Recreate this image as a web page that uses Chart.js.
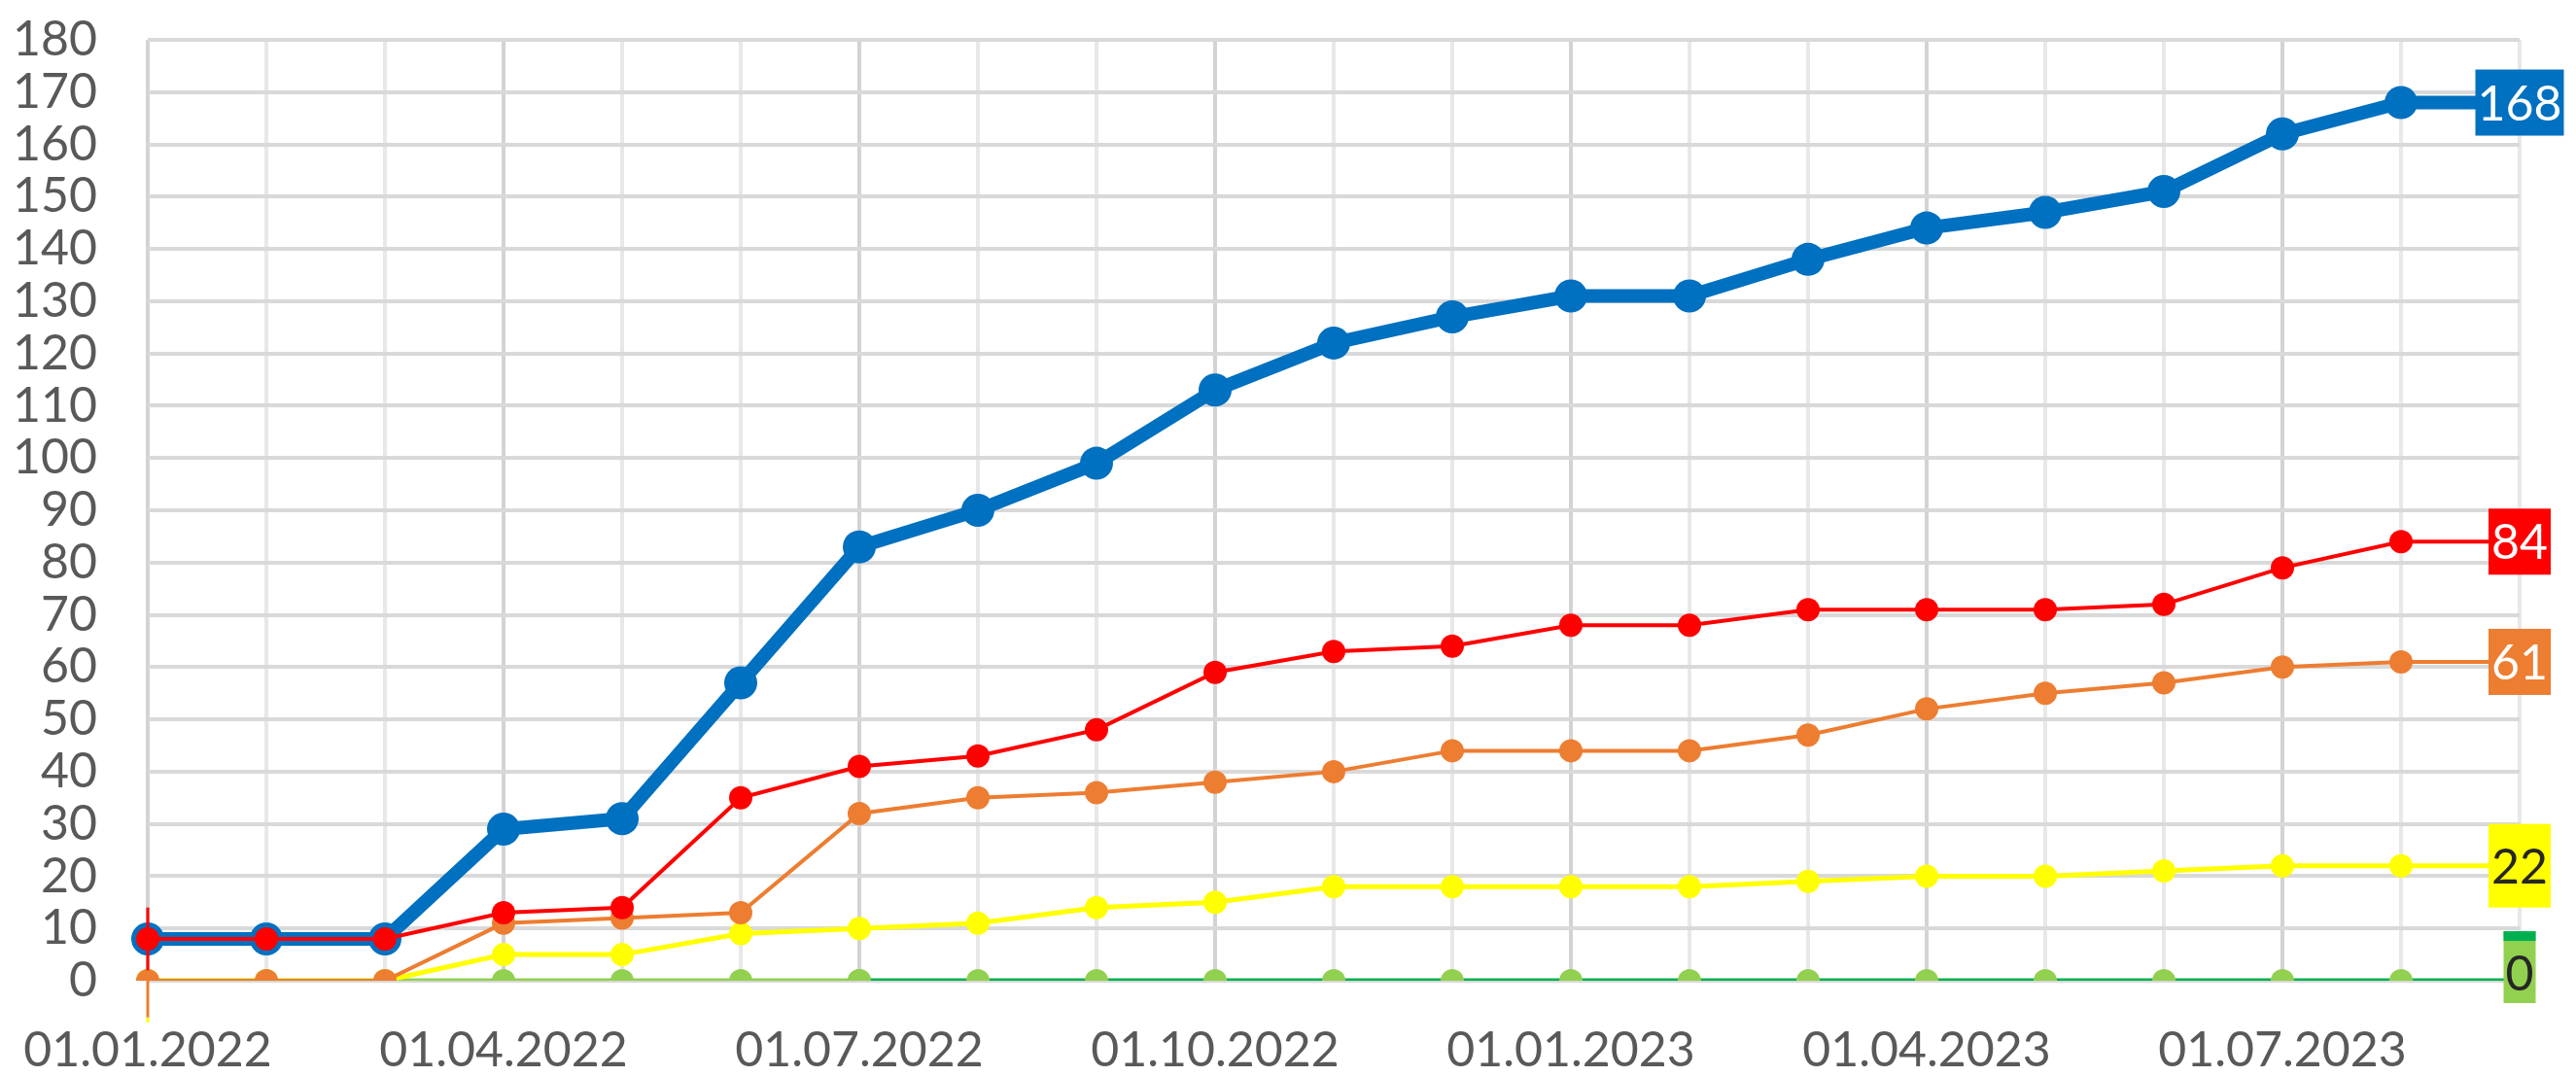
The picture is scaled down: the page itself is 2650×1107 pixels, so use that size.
<!DOCTYPE html>
<html>
<head>
<meta charset="utf-8">
<script src="https://cdn.jsdelivr.net/npm/chart.js@4.4.0/dist/chart.umd.min.js"></script>
<style>
  html, body { margin: 0; padding: 0; background: #ffffff; }
  #wrap { width: 2650px; height: 1107px; }
</style>
</head>
<body>
<div id="wrap"><canvas id="c" width="2650" height="1107"></canvas></div>
<script>
// ---- data ----
const categories = [
  '01.01.2022','01.02.2022','01.03.2022','01.04.2022','01.05.2022','01.06.2022',
  '01.07.2022','01.08.2022','01.09.2022','01.10.2022','01.11.2022','01.12.2022',
  '01.01.2023','01.02.2023','01.03.2023','01.04.2023','01.05.2023','01.06.2023',
  '01.07.2023','01.08.2023','01.09.2023'
];
const tickLabels = ['01.01.2022','01.04.2022','01.07.2022','01.10.2022','01.01.2023','01.04.2023','01.07.2023'];

const blueValues   = [8,8,8,29,31,57,83,90,99,113,122,127,131,131,138,144,147,151,162,168,168];
const redValues    = [8,8,8,13,14,35,41,43,48,59,63,64,68,68,71,71,71,72,79,84,84];
const orangeValues = [0,0,0,11,12,13,32,35,36,38,40,44,44,44,47,52,55,57,60,61,61];
const yellowValues = [0,0,0,5,5,9,10,11,14,15,18,18,18,18,19,20,20,21,22,22,22];
const lightGreenValues = [0,0,0,0,0,0,0,null,null,null,null,null,null,null,null,null,null,null,null,null,null];
const darkGreenValues  = [null,null,null,null,null,null,0,0,0,0,0,0,0,0,0,0,0,0,0,0,0];

// small error-bar stubs visible at the first category (01.01.2022)
const errBarSeries = ['yellow', 'orange', 'red'];
const errBarLow    = [-8, -7, 2];
const errBarHigh   = [-7, 0, 14];

const FONT = 'Lato, "Open Sans", sans-serif';
const FS = 50;
const lastIdx = categories.length - 1;
const radiusFn = r => ctx => (ctx.dataIndex === lastIdx ? 0 : r);

const errBarPlugin = {
  id: 'errBars',
  afterDatasetsDraw(chart) {
    const ctx = chart.ctx;
    const y = chart.scales.y;
    errBarSeries.forEach((name, k) => {
      const i = chart.data.datasets.findIndex(d => d.label === name);
      if (i < 0) return;
      const pt = chart.getDatasetMeta(i).data[0];
      ctx.save();
      ctx.strokeStyle = chart.data.datasets[i].borderColor;
      ctx.lineWidth = 3;
      ctx.beginPath();
      ctx.moveTo(pt.x, y.getPixelForValue(errBarLow[k]));
      ctx.lineTo(pt.x, y.getPixelForValue(errBarHigh[k]));
      ctx.stroke();
      ctx.restore();
    });
  }
};

// end-of-line value boxes drawn at the last data point via the chart's scales
const endLabelPlugin = {
  id: 'endLabels',
  afterDatasetsDraw(chart) {
    const ctx = chart.ctx;
    chart.data.datasets.forEach((ds, i) => {
      const cfg = ds.endLabel;
      if (!cfg) return;
      const meta = chart.getDatasetMeta(i);
      const pt = meta.data[lastIdx];
      if (!pt) return;
      const text = String(ds.data[lastIdx]);
      ctx.save();
      ctx.font = FS + 'px ' + FONT;
      const tw = ctx.measureText(text).width;
      const w = tw + cfg.padX * 2;
      const h = cfg.h;
      const dy = cfg.dy || 0;
      const x0 = pt.x - w / 2;
      const y0 = pt.y - h / 2 + dy;
      ctx.fillStyle = cfg.bg;
      ctx.fillRect(x0, y0, w, h);
      if (cfg.topBar) {
        ctx.fillStyle = cfg.topBar;
        ctx.fillRect(x0, y0, w, 10);
      }
      ctx.fillStyle = cfg.color;
      ctx.textAlign = 'center';
      ctx.textBaseline = 'middle';
      ctx.fillText(text, pt.x, pt.y + dy + 2 + (cfg.textDy || 0));
      ctx.restore();
    });
  }
};

new Chart(document.getElementById('c'), {
  type: 'line',
  data: {
    labels: categories,
    datasets: [
      {
        label: 'red', data: redValues, borderColor: '#FF0000', backgroundColor: '#FF0000',
        borderWidth: 4, pointRadius: radiusFn(12), pointBorderWidth: 0,
        pointBackgroundColor: '#FF0000',
        endLabel: { bg: '#FF0000', color: '#ffffff', padX: 3, h: 68 }
      },
      {
        label: 'orange', data: orangeValues, borderColor: '#ED7D31', backgroundColor: '#ED7D31',
        borderWidth: 4, pointRadius: radiusFn(12), pointBorderWidth: 0,
        pointBackgroundColor: '#ED7D31',
        endLabel: { bg: '#ED7D31', color: '#ffffff', padX: 3, h: 68 }
      },
      {
        label: 'yellow', data: yellowValues, borderColor: '#FFFF00', backgroundColor: '#FFFF00',
        borderWidth: 5, pointRadius: radiusFn(12), pointBorderWidth: 0,
        pointBackgroundColor: '#FFFF00',
        endLabel: { bg: '#FFFF00', color: '#262626', padX: 3, h: 86 }
      },
      {
        label: 'darkgreen', data: darkGreenValues, borderColor: '#00B050', backgroundColor: '#92D050',
        borderWidth: 5, pointRadius: radiusFn(12), pointBorderWidth: 0,
        pointBackgroundColor: '#92D050',
        endLabel: { bg: '#92D050', color: '#262626', padX: 2, h: 74, dy: -14, topBar: '#00B050', textDy: 6 }
      },
      {
        label: 'lightgreen', data: lightGreenValues, borderColor: '#92D050', backgroundColor: '#92D050',
        borderWidth: 5, pointRadius: radiusFn(12), pointBorderWidth: 0,
        pointBackgroundColor: '#92D050'
      },
      {
        label: 'blue', data: blueValues, borderColor: '#0070C0', backgroundColor: '#0070C0',
        borderWidth: 14, pointRadius: radiusFn(17), pointBorderWidth: 0,
        pointBackgroundColor: '#0070C0',
        endLabel: { bg: '#0070C0', color: '#ffffff', padX: 2, h: 68 }
      }
    ]
  },
  options: {
    responsive: false,
    animation: false,
    devicePixelRatio: 1,
    layout: { padding: { top: 41, right: 58, left: 0, bottom: 0 } },
    plugins: { legend: { display: false }, tooltip: { enabled: false } },
    elements: { line: { tension: 0 } },
    scales: {
      x: {
        type: 'category',
        offset: false,
        border: { display: false },
        grid: {
          drawTicks: true,
          tickLength: 24,
          tickColor: 'rgba(0,0,0,0)',
          lineWidth: 4,
          color: ctx => (ctx.index % 3 === 0) ? '#d3d3d3' : '#e8e8e8'
        },
        ticks: {
          autoSkip: false,
          maxRotation: 0,
          minRotation: 0,
          padding: 18,
          color: '#595959',
          font: { family: FONT, size: FS },
          callback: function (value, index) {
            const lab = categories[index];
            return tickLabels.includes(lab) ? lab : '';
          }
        },
        afterFit: scale => { scale.height = 98; }
      },
      y: {
        min: 0,
        max: 180,
        border: { display: false },
        grid: {
          drawTicks: true,
          tickLength: 44,
          tickColor: 'rgba(0,0,0,0)',
          lineWidth: 4,
          color: '#d9d9d9'
        },
        ticks: {
          stepSize: 10,
          autoSkip: false,
          padding: 8,
          color: '#595959',
          font: { family: FONT, size: FS }
        },
        afterFit: scale => { scale.width = 152; }
      }
    }
  },
  plugins: [errBarPlugin, endLabelPlugin]
});
</script>
</body>
</html>
